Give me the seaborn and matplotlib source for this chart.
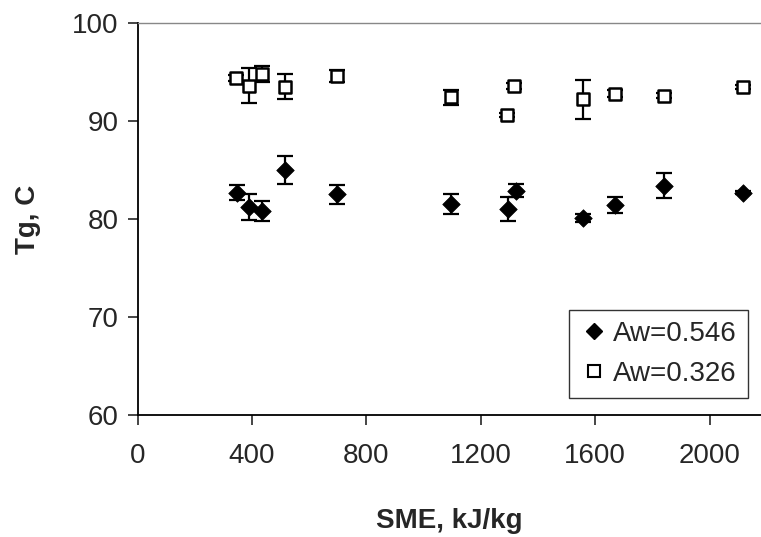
import numpy as np
import pandas as pd
import matplotlib
matplotlib.use('Agg')
import matplotlib.pyplot as plt
from matplotlib.lines import Line2D
import seaborn as sns

# Aw = 0.546 (filled diamonds)
sme_546 = [348, 388, 435, 515, 696, 1094, 1295, 1322, 1556, 1670, 1840, 2116]
tg_546 = [82.7, 81.2, 80.8, 85.0, 82.5, 81.5, 81.0, 82.9, 80.1, 81.4, 83.4, 82.7]
err_546 = [0.75, 1.3, 1.0, 1.4, 1.0, 1.0, 1.2, 0.7, 0.4, 0.8, 1.25, 0.2]

# Aw = 0.326 (open squares)
sme_326 = [345, 388, 435, 515, 696, 1096, 1291, 1315, 1559, 1668, 1840, 2116]
tg_326 = [94.4, 93.6, 94.8, 93.5, 94.6, 92.4, 90.6, 93.6, 92.2, 92.8, 92.6, 93.5]
err_326 = [0.3, 1.8, 0.8, 1.3, 0.6, 0.8, 0.2, 0.3, 2.0, 0.4, 0.3, 0.2]

x_ticks = [0, 400, 800, 1200, 1600, 2000]
y_ticks = [60, 70, 80, 90, 100]

sns.set_style('ticks')
plt.rcParams['font.family'] = ['Liberation Sans', 'DejaVu Sans']

df = pd.concat([
    pd.DataFrame({'SME': sme_546, 'Tg': tg_546, 'err': err_546, 'Aw': 'Aw=0.546'}),
    pd.DataFrame({'SME': sme_326, 'Tg': tg_326, 'err': err_326, 'Aw': 'Aw=0.326'}),
], ignore_index=True)

fig = plt.figure(figsize=(7.61, 5.37), dpi=100)
ax = fig.add_axes([0.181, 0.2272, 0.819, 0.7300])

# error bars
for name, grp in df.groupby('Aw'):
    ax.errorbar(grp['SME'], grp['Tg'], yerr=grp['err'], fmt='none',
                ecolor='black', elinewidth=1.6, capsize=6, capthick=1.6, zorder=2)

d546 = df[df['Aw'] == 'Aw=0.546']
d326 = df[df['Aw'] == 'Aw=0.326']
sns.scatterplot(data=d546, x='SME', y='Tg', marker='D', s=80, color='black',
                edgecolor='black', linewidth=0.5, ax=ax, zorder=3, legend=False)
sns.scatterplot(data=d326, x='SME', y='Tg', marker='s', s=80, facecolor='white',
                edgecolor='black', linewidth=1.8, ax=ax, zorder=3, legend=False)

ax.set_xlim(0, 2180)
ax.set_ylim(60, 100)
ax.set_xticks(x_ticks)
ax.set_yticks(y_ticks)
ax.tick_params(axis='x', labelsize=20, length=7, width=1.2, pad=13, direction='out')
ax.tick_params(axis='y', labelsize=20, length=7, width=1.2, pad=7, direction='out')

ax.set_xlabel('SME, kJ/kg', fontsize=20, fontweight='bold', labelpad=28)
ax.set_ylabel('Tg, C', fontsize=20, fontweight='bold', labelpad=22)

for side in ['left', 'bottom']:
    ax.spines[side].set_color('black')
    ax.spines[side].set_linewidth(1.3)
ax.spines['top'].set_visible(True)
ax.spines['top'].set_color('#888888')
ax.spines['top'].set_linestyle((0, (1, 1)))
ax.spines['top'].set_linewidth(1.0)
ax.spines['right'].set_visible(False)

handles = [
    Line2D([], [], marker='D', linestyle='none', color='black', markersize=8),
    Line2D([], [], marker='s', linestyle='none', markerfacecolor='white',
           markeredgecolor='black', markeredgewidth=1.5, markersize=8),
]
leg = ax.legend(handles, ['Aw=0.546', 'Aw=0.326'], loc='lower right',
                bbox_to_anchor=(0.983, 0.259), bbox_transform=fig.transFigure,
                borderaxespad=0, fontsize=20, frameon=True, fancybox=False,
                handletextpad=0.2, handlelength=1.0, labelspacing=0.5,
                borderpad=0.4)
leg.get_frame().set_edgecolor('black')
leg.get_frame().set_linewidth(1.0)

plt.savefig('out.png', dpi=100)
plt.close()
